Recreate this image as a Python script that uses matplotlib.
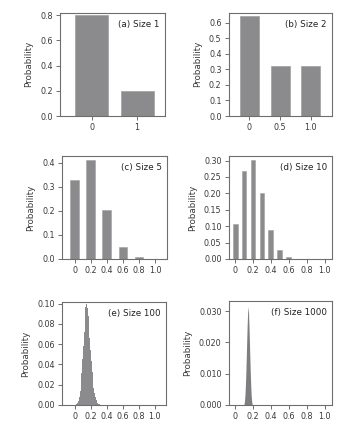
import numpy as np
import matplotlib
matplotlib.use("Agg")
import matplotlib.pyplot as plt

#%% data
# (a) size 1
a_labels = ["0", "1"]
a_probs = [0.80, 0.20]
# (b) size 2
b_labels = ["0", "0.5", "1.0"]
b_probs = [0.64, 0.32, 0.32]
# (c) size 5
c_props = [0.0, 0.2, 0.4, 0.6, 0.8, 1.0]
c_probs = [0.328, 0.410, 0.205, 0.051, 0.0064, 0.0003]
# (d) size 10
d_props = [0.0, 0.1, 0.2, 0.3, 0.4, 0.5, 0.6, 0.7, 0.8, 0.9, 1.0]
d_probs = [0.107, 0.268, 0.302, 0.201, 0.088, 0.026, 0.0055, 0.0008, 0.0001, 0.0, 0.0]
# (e) size 100, proportions 0.02 .. 0.31
e_props = [0.02, 0.03, 0.04, 0.05, 0.06, 0.07, 0.08, 0.09, 0.10, 0.11,
           0.12, 0.13, 0.14, 0.15, 0.16, 0.17, 0.18, 0.19, 0.20, 0.21,
           0.22, 0.23, 0.24, 0.25, 0.26, 0.27, 0.28, 0.29, 0.30, 0.31]
e_probs = [0.0005, 0.001, 0.002, 0.004, 0.008, 0.014, 0.022, 0.032, 0.045, 0.058,
           0.072, 0.086, 0.097, 0.100, 0.096, 0.088, 0.078, 0.066, 0.054, 0.043,
           0.033, 0.024, 0.017, 0.012, 0.008, 0.005, 0.003, 0.002, 0.001, 0.0005]
# (f) size 1000
f_props = [0.100, 0.105, 0.110, 0.115, 0.120, 0.125, 0.130, 0.135, 0.140, 0.145,
           0.150, 0.155, 0.160, 0.165, 0.170, 0.175, 0.180, 0.185, 0.190, 0.195]
f_probs = [0.0003, 0.0012, 0.0030, 0.0060, 0.0100, 0.0150, 0.0205, 0.0255, 0.0295, 0.0315,
           0.0295, 0.0255, 0.0205, 0.0150, 0.0100, 0.0060, 0.0030, 0.0012, 0.0003, 0.0]

prop_ticks = [0, 0.2, 0.4, 0.6, 0.8, 1.0]
prop_ticklabels = ["0", "0.2", "0.4", "0.6", "0.8", "1.0"]

#%% style
BAR = "#8b8b8d"
SPINE = "#6e6e6e"
TXT = "#3a3a3a"
plt.rcParams["font.family"] = ["DejaVu Sans"]

W, H = 354, 428
fig = plt.figure(figsize=(W / 100, H / 100), dpi=100)


def make_ax(l, r, t, b):
    """axes from pixel box"""
    ax = fig.add_axes([l / W, (H - b) / H, (r - l) / W, (b - t) / H])
    for s in ax.spines.values():
        s.set_color(SPINE)
        s.set_linewidth(0.8)
    ax.tick_params(colors=SPINE, labelcolor=TXT, labelsize=5.8, length=3, width=0.7, pad=2)
    ax.set_ylabel("Probability", fontsize=6.3, color=TXT, labelpad=5)
    return ax


def label(ax, txt):
    ax.text(0.95, 0.93, txt, transform=ax.transAxes, ha="right", va="top",
            fontsize=6.3, color="#222222")


#%% (a)
ax = make_ax(60, 165, 12.5, 116)
ax.bar(range(len(a_probs)), a_probs, width=0.72, color=BAR, edgecolor="#a0a0a0", linewidth=0.5)
ax.set_xticks(range(len(a_labels)))
ax.set_xticklabels(a_labels)
ax.set_xlim(-0.69, 1.61)
ax.set_ylim(0, 0.82)
ax.set_yticks([0, 0.2, 0.4, 0.6, 0.8])
ax.set_yticklabels(["0.0", "0.2", "0.4", "0.6", "0.8"])
label(ax, "(a) Size 1")

#%% (b)
ax = make_ax(228.5, 331.5, 12.5, 116)
ax.bar(range(len(b_probs)), b_probs, width=0.62, color=BAR, edgecolor="#a0a0a0", linewidth=0.5)
ax.set_xticks(range(len(b_labels)))
ax.set_xticklabels(b_labels)
ax.set_xlim(-0.675, 2.67)
ax.set_ylim(0, 0.665)
ax.set_yticks(np.arange(0, 0.61, 0.1))
ax.set_yticklabels(["0.0", "0.1", "0.2", "0.3", "0.4", "0.5", "0.6"])
label(ax, "(b) Size 2")

#%% (c)
ax = make_ax(62, 167, 156, 259)
ax.bar(c_props, c_probs, width=0.11, color=BAR, edgecolor="#a0a0a0", linewidth=0.4)
ax.set_xticks(prop_ticks)
ax.set_xticklabels(prop_ticklabels)
ax.set_xlim(-0.16, 1.15)
ax.set_ylim(0, 0.428)
ax.set_yticks([0, 0.1, 0.2, 0.3, 0.4])
ax.set_yticklabels(["0.0", "0.1", "0.2", "0.3", "0.4"])
label(ax, "(c) Size 5")

#%% (d)
ax = make_ax(228.5, 332, 156, 259)
ax.bar(d_props, d_probs, width=0.055, color=BAR, edgecolor="#a0a0a0", linewidth=0.4)
ax.set_xticks(prop_ticks)
ax.set_xticklabels(prop_ticklabels)
ax.set_xlim(-0.073, 1.08)
ax.set_ylim(0, 0.314)
ax.set_yticks(np.arange(0, 0.31, 0.05))
ax.set_yticklabels(["0.00", "0.05", "0.10", "0.15", "0.20", "0.25", "0.30"])
label(ax, "(d) Size 10")

#%% (e)
ax = make_ax(62, 166, 302, 405)
ax.bar(e_props, e_probs, width=0.01, color=BAR, linewidth=0)
ax.set_xticks(prop_ticks)
ax.set_xticklabels(prop_ticklabels)
ax.set_xlim(-0.156, 1.14)
ax.set_ylim(0, 0.1017)
ax.set_yticks(np.arange(0, 0.101, 0.02))
ax.set_yticklabels(["0.00", "0.02", "0.04", "0.06", "0.08", "0.10"])
label(ax, "(e) Size 100")

#%% (f)
ax = make_ax(228.5, 332, 301, 405)
ax.fill_between(f_props, f_probs, 0, color="#7e7e80", linewidth=0)
ax.set_xticks(prop_ticks)
ax.set_xticklabels(prop_ticklabels)
ax.set_xlim(-0.073, 1.08)
ax.set_ylim(0, 0.0332)
ax.set_yticks([0, 0.01, 0.02, 0.03])
ax.set_yticklabels(["0.000", "0.010", "0.020", "0.030"])
label(ax, "(f) Size 1000")

fig.savefig("out.png", dpi=100)
